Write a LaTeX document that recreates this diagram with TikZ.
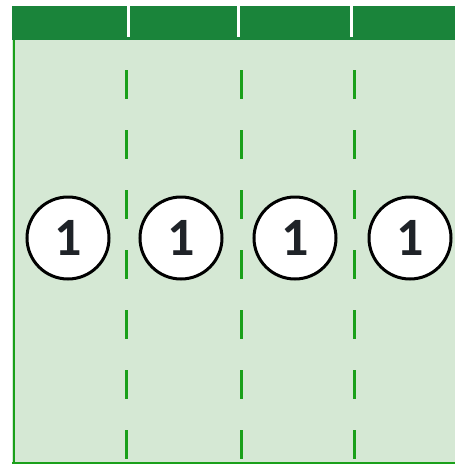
\documentclass[tikz,border=0pt]{standalone}
\usepackage{fontspec}
\setmainfont{Carlito}
\definecolor{barg}{HTML}{1A843A}
\definecolor{bgg}{HTML}{D5E8D4}
\definecolor{lineg}{HTML}{1AA01A}
\definecolor{txt}{HTML}{1F2328}
\begin{document}
\begin{tikzpicture}[x=1pt,y=-1pt,
  lane/.style={draw=lineg,line width=3pt,dash pattern=on 29pt off 31pt,dash phase=-2pt},
  num/.style={circle,draw=black,line width=3pt,fill=white,minimum size=82pt,inner sep=0pt,
    text=txt,font=\fontsize{54}{54}\selectfont\bfseries}]
\useasboundingbox (0,0) rectangle (455,464);
\fill[white] (0,0) rectangle (455,464);
\fill[bgg] (12,40) rectangle (455,464);
\fill[barg] (12,6) rectangle (455,40);
\foreach \x in {128.5,238.5,351.5}{\fill[white] (\x-1.7,6) rectangle (\x+1.7,37);}
\draw[lineg,line width=2.5pt] (14.2,40) -- (14.2,464);
\draw[lineg,line width=2pt] (12,463) -- (455,463);
\coordinate (t1) at (126,68); \coordinate (b1) at (126,464);
\coordinate (t2) at (241,68); \coordinate (b2) at (241,464);
\coordinate (t3) at (354,68); \coordinate (b3) at (354,464);
\draw[lane] (t1) -- (b1);
\draw[lane] (t2) -- (b2);
\draw[lane] (t3) -- (b3);
\node[num] (c1) at (68,238) {1};
\node[num] (c2) at (181,238) {1};
\node[num] (c3) at (295,238) {1};
\node[num] (c4) at (410,238) {1};
\end{tikzpicture}
\end{document}
